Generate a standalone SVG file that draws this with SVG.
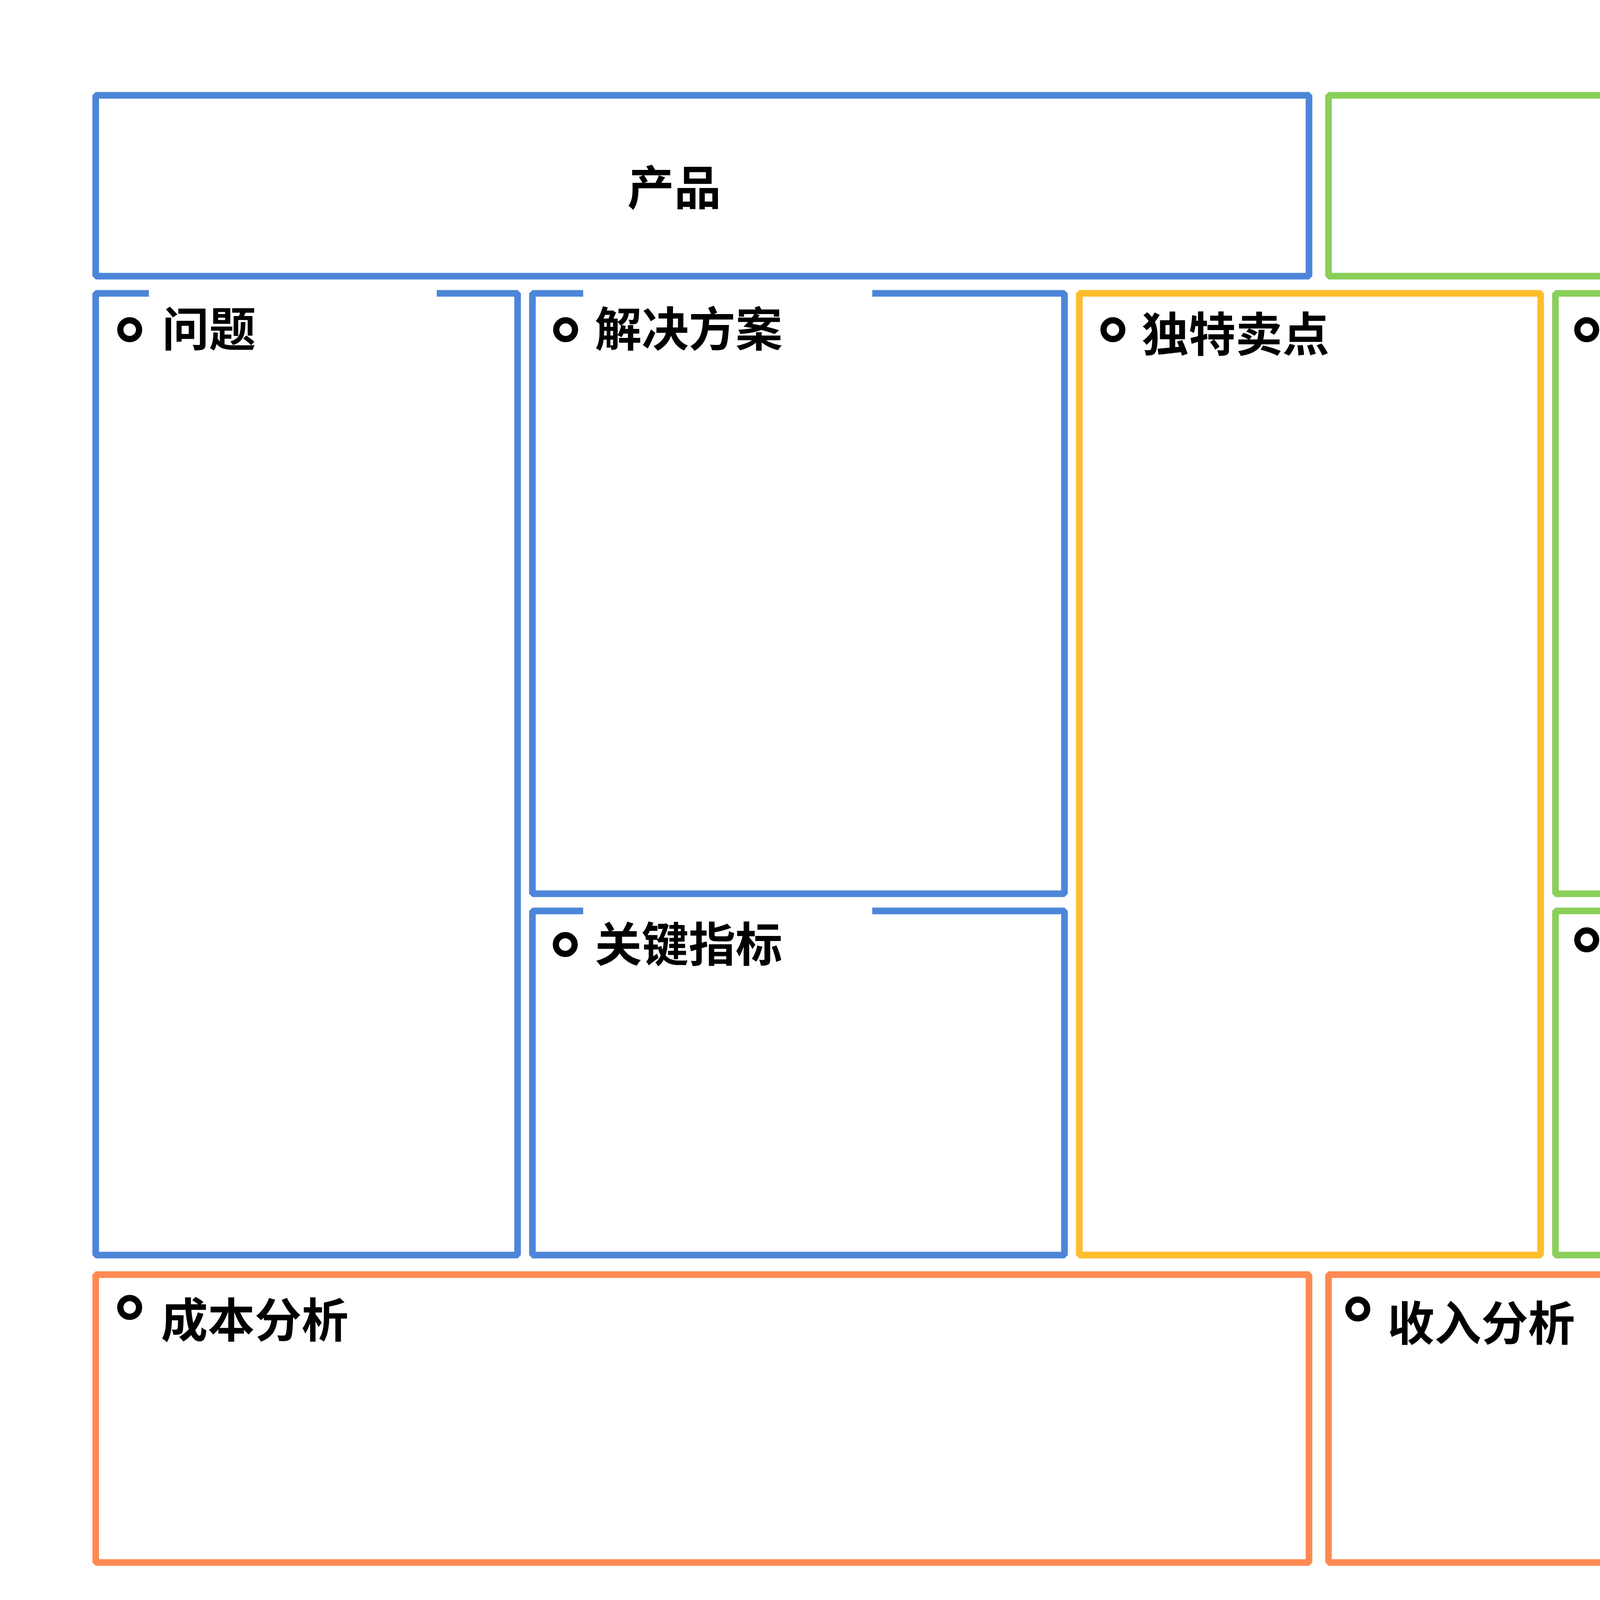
<svg xmlns="http://www.w3.org/2000/svg" width="6644" height="4225" viewBox="0 0 6644 4225">
<defs>
<style>
.box{fill:none;stroke-width:17;stroke-linejoin:bevel}
.blue{stroke:#4d86d9}
.green{stroke:#8acf5a}
.yellow{stroke:#fdbd2c}
.orange{stroke:#fe8a52}
.title{font-family:"Noto Sans CJK SC","Noto Sans CJK JP",sans-serif;font-weight:700;font-size:120px;fill:#000;text-anchor:middle}
.lbl{font-family:"Noto Sans CJK SC","Noto Sans CJK JP",sans-serif;font-weight:700;font-size:120px;fill:#000}
.dot{fill:none;stroke:#000;stroke-width:16}
.gap{fill:#fff}
</style>
</defs>
<rect width="6644" height="4225" fill="#fff"/>
<g id="product">
<rect class="box blue" x="245" y="244" width="3106" height="463"/>
<text class="title" x="1726" y="525">产品</text>
</g>
<g id="market">
<rect class="box green" x="3401" y="244" width="3012" height="463"/>
<text class="title" x="4872" y="525">市场</text>
</g>
<g id="problem">
<rect class="box blue" x="245" y="751" width="1080" height="2462"/>
<rect class="gap" x="381" y="738" width="737" height="26"/>
<circle class="dot" cx="332" cy="844" r="24"/>
<text class="lbl" x="415" y="887">问题</text>
</g>
<g id="solution">
<rect class="box blue" x="1363" y="751" width="1362" height="1537"/>
<rect class="gap" x="1493" y="738" width="740" height="26"/>
<circle class="dot" cx="1448" cy="844" r="24"/>
<text class="lbl" x="1523" y="887">解决方案</text>
</g>
<g id="metrics">
<rect class="box blue" x="1363" y="2332" width="1362" height="881"/>
<rect class="gap" x="1493" y="2319" width="740" height="26"/>
<circle class="dot" cx="1447" cy="2418" r="24"/>
<text class="lbl" x="1523" y="2462">关键指标</text>
</g>
<g id="usp">
<rect class="box yellow" x="2763" y="751" width="1181" height="2462"/>
<circle class="dot" cx="2849" cy="844" r="24"/>
<text class="lbl" x="2923" y="900">独特卖点</text>
</g>
<g id="channels">
<rect class="box green" x="3982" y="751" width="1319" height="1537"/>
<circle class="dot" cx="4062" cy="844" r="24"/>
<text class="lbl" x="4142" y="918">渠道</text>
</g>
<g id="advantage">
<rect class="box green" x="3982" y="2332" width="1319" height="881"/>
<circle class="dot" cx="4062" cy="2406" r="24"/>
<text class="lbl" x="4141" y="2475">优势</text>
</g>
<g id="users">
<rect class="box green" x="5338" y="751" width="1075" height="2462"/>
<circle class="dot" cx="5424" cy="850" r="24"/>
<text class="lbl" x="5500" y="924">用户</text>
</g>
<g id="cost">
<rect class="box orange" x="245" y="3263" width="3106" height="737"/>
<circle class="dot" cx="332" cy="3347" r="24"/>
<text class="lbl" x="412" y="3424">成本分析</text>
</g>
<g id="revenue">
<rect class="box orange" x="3401" y="3263" width="3012" height="737"/>
<circle class="dot" cx="3476" cy="3351" r="24"/>
<text class="lbl" x="3552" y="3432">收入分析</text>
</g>
<g id="connectors"></g>
</svg>
